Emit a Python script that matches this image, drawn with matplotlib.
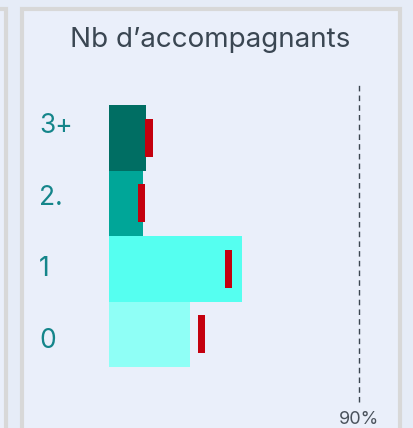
import matplotlib
matplotlib.use("Agg")
import matplotlib.pyplot as plt
from matplotlib.patches import Rectangle

# Data
categories = ["0", "1", "2.", "3+"]
shares = [29.3, 48.0, 12.1, 13.2]          # bar values (%)
reference = [33.3, 42.9, 11.7, 14.4]       # red markers (%)
bar_colors = ["#8ffff6", "#55fff0", "#00a698", "#006e63"]
target = 90

plt.rcParams['font.family'] = ['Inter', 'DejaVu Sans']

fig = plt.figure(figsize=(4.13, 4.28), dpi=100)
fig.patch.set_facecolor("#e6ecf7")

W, H = 413.0, 428.0

# panel frames (this one and the edge of the neighbouring one)
fig.add_artist(Rectangle((22 / W, -0.05), (400 - 22) / W, (H - 9) / H + 0.05,
                         transform=fig.transFigure, facecolor="#eaeffa",
                         edgecolor="#d8d8d8", linewidth=3.0, zorder=0))
fig.add_artist(Rectangle((-0.2, -0.05), 0.2 + 6 / W, (H - 9) / H + 0.05,
                         transform=fig.transFigure, facecolor="#eaeffa",
                         edgecolor="#d8d8d8", linewidth=3.0, zorder=0))

ax = fig.add_axes([109 / W, (H - 367) / H, 278 / W, 262 / H])
ax.set_facecolor("none")

y = range(len(categories))
ax.barh(y, shares, height=1.0, color=bar_colors, zorder=2)
ax.barh(y, [2.7] * len(reference), left=[r - 1.35 for r in reference],
        height=0.58, color="#c4000e", zorder=3)

ax.set_xlim(0, 100)
ax.set_ylim(-0.5, 3.5)
ax.plot([target, target], [-1.03, 3.84], linestyle=(0, (4, 3)), color="#3c4650",
        linewidth=1.0, clip_on=False, zorder=1)
ax.text(target, -1.3, f"{target}%", ha="center", va="center", fontsize=13,
        color="#4a525c", clip_on=False)

for i, cat in enumerate(categories):
    ax.text(-0.252, 0.099 + i * 0.2737, cat, transform=ax.transAxes, ha="left",
            va="center", fontsize=19, color="#14858a")

ax.set_xticks([])
ax.set_yticks([])
for s in ax.spines.values():
    s.set_visible(False)

fig.text(210 / W, 1 - 40 / H, "Nb d’accompagnants", ha="center", va="center",
         fontsize=20, color="#3a4652")

fig.savefig("out.png", dpi=100, facecolor=fig.get_facecolor())
